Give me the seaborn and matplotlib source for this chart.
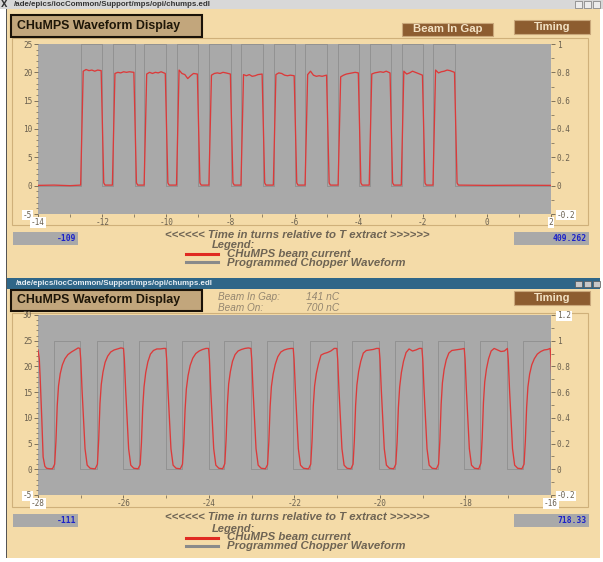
import numpy as np
import pandas as pd
import matplotlib
matplotlib.use("Agg")
import matplotlib.pyplot as plt
import seaborn as sns
from matplotlib.patches import Rectangle
from matplotlib.lines import Line2D
from matplotlib.ticker import MultipleLocator

# ---------------- data ----------------
# Top display: programmed chopper windows (turns)
top_chop_on = [-12.66, -11.67, -10.68, -9.67, -8.66, -7.66, -6.65, -5.66, -4.63, -3.66, -2.66, -1.67]
top_chop_off = [-12.01, -10.99, -10.01, -9.01, -7.98, -6.99, -5.99, -4.98, -3.99, -3.00, -1.99, -0.99]
# beam current plateau samples for each pulse (left axis)
top_plateau_dt = [0.07, 0.16, 0.25, 0.34, 0.43, 0.52]
top_plateau = [
    [20.2, 20.5, 20.3, 20.4, 20.2, 20.4, 20.3],
    [19.8, 20.0, 19.9, 20.1, 20.0, 20.1, 20.0],
    [19.7, 20.0, 19.8, 20.0, 19.9, 20.1, 19.8],
    [20.4, 19.8, 19.6, 18.9, 19.4, 19.8, 19.7],
    [19.5, 19.8, 19.9, 19.8, 20.0, 19.9, 19.7],
    [19.6, 19.4, 19.6, 19.3, 19.4, 19.6, 19.7],
    [19.6, 19.9, 19.8, 19.5, 19.4, 19.5, 19.4],
    [19.6, 20.2, 19.5, 19.3, 19.4, 19.3, 19.5],
    [19.2, 19.5, 19.7, 19.8, 19.9, 20.0, 19.9],
    [19.7, 19.9, 20.0, 20.1, 20.0, 20.2, 19.9],
    [20.2, 19.7, 19.9, 20.2, 20.0, 19.8, 19.5],
    [20.4, 19.9, 20.1, 20.2, 20.4, 20.3, 20.0],
]
top_fall_dt = [0.06, 0.10]
top_fall_v = [0.5, 0.1]
top_lead_t = [-14.0, -13.5, -13.0]
top_lead_v = [0.05, 0.1, 0.0]
top_tail_t = [0.0, 1.0, 2.0]
top_tail_v = [0.05, 0.08, 0.05]

# Bottom display
bot_chop_on = [-27.63, -26.63, -25.63, -24.64, -23.65, -22.65, -21.64, -20.65, -19.65, -18.65, -17.66, -16.65]
bot_chop_off = [-27.02, -26.00, -25.01, -24.01, -23.02, -22.03, -21.01, -20.02, -19.02, -18.03, -17.02, -16.02]
bot_rise_dt = [-0.03, 0.02, 0.05, 0.08, 0.11, 0.15, 0.20, 0.26, 0.33, 0.41, 0.49, 0.57]
bot_rise = [
    [0.1, 1.0, 5.5, 12.4, 16.2, 18.6, 20.3, 21.5, 22.3, 22.8, 23.2, 23.6],
    [0.1, 1.0, 5.8, 12.8, 16.5, 18.9, 20.8, 22.0, 22.8, 23.2, 23.4, 23.6],
    [0.1, 0.9, 5.2, 12.0, 16.0, 18.8, 20.9, 22.4, 23.1, 23.4, 23.4, 23.5],
    [0.1, 1.0, 5.0, 11.5, 15.6, 18.2, 20.2, 21.6, 22.5, 23.0, 23.3, 23.5],
    [0.1, 1.1, 5.8, 12.6, 16.6, 19.0, 21.0, 22.3, 23.0, 23.3, 23.5, 23.6],
    [0.1, 0.9, 5.4, 12.2, 16.1, 18.5, 20.4, 21.9, 22.8, 23.2, 23.4, 23.5],
    [0.1, 1.0, 5.5, 12.4, 16.2, 18.6, 20.5, 22.2, 22.5, 22.7, 23.0, 23.5],
    [0.1, 1.0, 5.6, 12.5, 16.4, 19.0, 21.0, 22.6, 23.1, 23.2, 23.3, 23.5],
    [0.1, 1.0, 5.3, 12.0, 16.0, 18.8, 21.0, 22.7, 23.4, 23.0, 23.2, 23.5],
    [0.1, 1.0, 5.5, 12.6, 16.8, 19.4, 21.3, 22.6, 23.1, 23.2, 23.3, 23.4],
    [0.1, 1.2, 6.0, 13.0, 17.0, 19.5, 21.5, 23.0, 23.5, 23.2, 22.9, 23.0],
    [0.1, 1.0, 5.5, 12.0, 16.0, 18.5, 20.3, 21.5, 22.4, 22.9, 23.2, 23.3],
]
bot_fall_dt = [0.00, 0.02, 0.05, 0.08, 0.12, 0.17, 0.24, 0.33]
bot_fall_v = [23.5, 21.4, 15.5, 10.5, 4.0, 0.8, 0.2, 0.1]
bot_lead_t = [-28.0, -27.97, -27.95, -27.91, -27.88, -27.84, -27.80, -27.72]
bot_lead_v = [23.2, 21.5, 18.0, 9.5, 2.4, 0.6, 0.2, 0.1]

# tick labels
top_xticks = [-14, -12, -10, -8, -6, -4, -2, 0, 2]
top_xlabels = ["-14", "-12", "-10", "-8", "-6", "-4", "-2", "0", "2"]
top_yticks = [-5, 0, 5, 10, 15, 20, 25]
top_ylabels = ["-5", "0", "5", "10", "15", "20", "25"]
top_rticks = [-0.2, 0.0, 0.2, 0.4, 0.6, 0.8, 1.0]
top_rlabels = ["-0.2", "0", "0.2", "0.4", "0.6", "0.8", "1"]
bot_xticks = [-28, -26, -24, -22, -20, -18, -16]
bot_xlabels = ["-28", "-26", "-24", "-22", "-20", "-18", "-16"]
bot_yticks = [-5, 0, 5, 10, 15, 20, 25, 30]
bot_ylabels = ["-5", "0", "5", "10", "15", "20", "25", "30"]
bot_rticks = [-0.2, 0.0, 0.2, 0.4, 0.6, 0.8, 1.0, 1.2]
bot_rlabels = ["-0.2", "0", "0.2", "0.4", "0.6", "0.8", "1", "1.2"]

top_left_value = "-109"
top_right_value = "409.262"
bot_left_value = "-111"
bot_right_value = "718.33"
beam_in_gap = "141 nC"
beam_on = "700 nC"

# ---------------- build line tables ----------------
def red_top():
    t = list(top_lead_t); v = list(top_lead_v)
    for on, off, lev in zip(top_chop_on, top_chop_off, top_plateau):
        t += [on - 0.01] + [on + d for d in top_plateau_dt] + [off - 0.02] + [off + d for d in top_fall_dt]
        v += [0.1] + lev + top_fall_v
    t += top_tail_t; v += top_tail_v
    return pd.DataFrame({"t": t, "I": v})

def red_bot():
    t = list(bot_lead_t); v = list(bot_lead_v)
    for on, off, lev in zip(bot_chop_on, bot_chop_off, bot_rise):
        t += [on + d for d in bot_rise_dt] + [off + d for d in bot_fall_dt]
        v += lev + bot_fall_v
    return pd.DataFrame({"t": t, "I": v})

def chopper(on_l, off_l, t0, t1):
    t = [t0]; v = [0]
    for a, b in zip(on_l, off_l):
        t += [a, a, b, b]; v += [0, 1, 1, 0]
    t.append(t1); v.append(0)
    return pd.DataFrame({"t": t, "W": v})

# ---------------- figure ----------------
W, H = 603, 562
fig = plt.figure(figsize=(W / 100, H / 100), dpi=100)
fig.patch.set_facecolor("white")

TAN = "#f4dba8"
GRAY = "#a9a9a9"
RED = "#dc3a3a"
CHOP = "#8e8e8e"
TXT = "#6e6454"
TICK = "#6a604f"
MONO = "DejaVu Sans Mono"
SANS = "Liberation Sans"

def rect(x0, y0, x1, y1, z=-5, **kw):
    fig.add_artist(Rectangle((x0 / W, 1 - y1 / H), (x1 - x0) / W, (y1 - y0) / H,
                             transform=fig.transFigure, zorder=z, **kw))

def text(x, y, s, **kw):
    fig.text(x / W, 1 - y / H, s, **kw)

def hline(x0, x1, y, **kw):
    fig.add_artist(Line2D([x0 / W, x1 / W], [1 - y / H, 1 - y / H], transform=fig.transFigure, **kw))

# windows
rect(7, 9, 600, 278, facecolor=TAN, edgecolor="none")
rect(7, 289, 600, 558, facecolor=TAN, edgecolor="none")
rect(5.5, 0, 7, 558, facecolor="#555555", edgecolor="none")
rect(0, 0, 603, 9, facecolor="#d8d8d8", edgecolor="none", z=-4)
rect(7, 278, 600, 289, facecolor="#2f6688", edgecolor="none", z=-4)
text(1.0, 4.8, "X", fontsize=6.0, fontweight="bold", color="#333333", va="center")
text(14, 4.8, "/ade/epics/iocCommon/Support/mps/opi/chumps.edl", fontsize=5.7,
     fontweight="bold", color="#333333", va="center", family=SANS)
text(16, 283.5, "/ade/epics/iocCommon/Support/mps/opi/chumps.edl", fontsize=5.7,
     fontweight="bold", color="#e8eef4", va="center", family=SANS)
for bx in (575, 584, 593):
    rect(bx, 1.5, bx + 7, 7.8, facecolor="#ececec", edgecolor="#777777", linewidth=0.5, z=-3)
    rect(bx, 280.5, bx + 7, 287, facecolor="#c8c8c8", edgecolor="#555555", linewidth=0.5, z=-3)

# panel frames
rect(12, 38, 588, 225, facecolor="none", edgecolor="#cfb07a", linewidth=0.8, z=-3)
rect(12, 313, 588, 507, facecolor="none", edgecolor="#cfb07a", linewidth=0.8, z=-3)

# header boxes
for (y0, y1) in ((15, 37), (290, 311)):
    rect(11, y0, 202, y1, facecolor="#c2a67c", edgecolor="#1a1208", linewidth=1.5, z=-3)
    text(17, (y0 + y1) / 2, "CHuMPS Waveform Display", fontsize=8.9, fontweight="bold",
         color="#1e1608", va="center", family=SANS)

rect(402, 23, 493, 36, facecolor="#8d5d30", edgecolor="#c9a77a", linewidth=0.8, z=-3)
text(447.5, 29.5, "Beam In Gap", fontsize=8.2, color="#f3e2c4", ha="center", va="center",
     family=SANS, fontweight="bold")
for (y0, y1) in ((20, 34), (291, 305)):
    rect(514, y0, 590, y1, facecolor="#8d5d30", edgecolor="#c9a77a", linewidth=0.8, z=-3)
    text(552, (y0 + y1) / 2, "Timing", fontsize=8.0, color="#f3e2c4", ha="center", va="center",
         family=SANS, fontweight="bold")

for (yy, lab, val) in ((297.5, "Beam In Gap:", beam_in_gap), (308, "Beam On:", beam_on)):
    text(218, yy, lab, fontsize=7.2, style="italic", color="#948670", va="center", family=SANS)
    text(306, yy, val, fontsize=7.4, style="italic", color="#948670", va="center", family=SANS)

# value boxes, axis captions, legends
for (ybox, lval, rval, ycap, yleg, y1, y2) in (
        (232, top_left_value, top_right_value, 235, 244.5, 253.5, 262.5),
        (514, bot_left_value, bot_right_value, 517, 528.5, 537.5, 546)):
    rect(13, ybox, 78, ybox + 13, facecolor=GRAY, edgecolor="none", z=-3)
    rect(514, ybox, 589, ybox + 13, facecolor=GRAY, edgecolor="none", z=-3)
    text(76, ybox + 6.5, lval, fontsize=5.8, color="#1c22c8", ha="right", va="center",
         family=MONO, fontweight="bold")
    text(587, ybox + 6.5, rval, fontsize=5.8, color="#1c22c8", ha="right", va="center",
         family=MONO, fontweight="bold")
    text(297, ycap, "<<<<<< Time in turns relative to T extract >>>>>>", fontsize=8.2,
         style="italic", fontweight="bold", color=TXT, ha="center", va="center", family=SANS)
    text(212, yleg, "Legend:", fontsize=8.0, style="italic", fontweight="bold", color=TXT,
         va="center", family=SANS)
    hline(186, 218, y1 + 0.5, color="#e02a22", linewidth=2.2)
    hline(186, 218, y2 - 0.5, color="#8a8a8a", linewidth=2.2)
    text(227, y1, "CHuMPS beam current", fontsize=8.2, style="italic", fontweight="bold",
         color=TXT, va="center", family=SANS)
    text(227, y2, "Programmed Chopper Waveform", fontsize=8.2, style="italic",
         fontweight="bold", color=TXT, va="center", family=SANS)

# ---------------- plots ----------------
def make_panel(ybot_px, h_px, xlim, ylim, rlim, red_df, chop_df,
               xt, xl, yt, yl, rt, rl, boxed):
    ax = fig.add_axes([38 / W, 1 - ybot_px / H, 513 / W, h_px / H])
    ax2 = ax.twinx()
    ax.set_zorder(ax2.get_zorder() + 1)
    ax.patch.set_visible(False)
    ax2.patch.set_facecolor(GRAY)
    ax2.patch.set_visible(True)

    sns.lineplot(data=chop_df, x="t", y="W", ax=ax2, color=CHOP, linewidth=0.6,
                 estimator=None, sort=False, legend=False)
    sns.lineplot(data=red_df, x="t", y="I", ax=ax, color=RED, linewidth=0.95,
                 estimator=None, sort=False, legend=False)

    ax.set_xlim(*xlim); ax.set_ylim(*ylim); ax2.set_ylim(*rlim)
    ax.set_xlabel(""); ax.set_ylabel(""); ax2.set_ylabel("")
    for a in (ax, ax2):
        for s in a.spines.values():
            s.set_visible(False)
    ax.set_xticks(xt); ax.set_xticklabels(xl)
    ax.set_yticks(yt); ax.set_yticklabels(yl)
    ax2.set_yticks(rt); ax2.set_yticklabels(rl)
    ax.xaxis.set_minor_locator(MultipleLocator(1))
    ax.yaxis.set_minor_locator(MultipleLocator(1))
    ax2.yaxis.set_minor_locator(MultipleLocator(0.1))
    for a in (ax, ax2):
        a.tick_params(which="major", direction="out", length=3.0, width=0.6, color=TICK,
                      labelsize=5.6, labelcolor=TICK, pad=1.2)
        a.tick_params(which="minor", direction="out", length=1.8, width=0.5, color=TICK)
    ax.tick_params(axis="x", which="major", length=2.5, pad=0.6)
    for lab in ax.get_xticklabels() + ax.get_yticklabels() + ax2.get_yticklabels():
        lab.set_family(MONO)
    bb = dict(facecolor="white", edgecolor="none", pad=0.6)
    for lab in ax.get_xticklabels():
        if lab.get_text() in boxed["x"]:
            lab.set_bbox(bb)
    for lab in ax.get_yticklabels():
        if lab.get_text() in boxed["y"]:
            lab.set_bbox(bb)
    for lab in ax2.get_yticklabels():
        if lab.get_text() in boxed["r"]:
            lab.set_bbox(bb)
    return ax, ax2

make_panel(214, 170, (-14, 2), (-5, 25), (-0.2, 1.0), red_top(),
           chopper(top_chop_on, top_chop_off, -14, 2),
           top_xticks, top_xlabels, top_yticks, top_ylabels, top_rticks, top_rlabels,
           {"x": ["-14", "2"], "y": ["-5"], "r": ["-0.2"]})
make_panel(495, 180, (-28, -16), (-5, 30), (-0.2, 1.2), red_bot(),
           chopper(bot_chop_on, bot_chop_off, -28, -16),
           bot_xticks, bot_xlabels, bot_yticks, bot_ylabels, bot_rticks, bot_rlabels,
           {"x": ["-28", "-16"], "y": ["-5"], "r": ["-0.2", "1.2"]})

fig.savefig("out.png", dpi=100)
